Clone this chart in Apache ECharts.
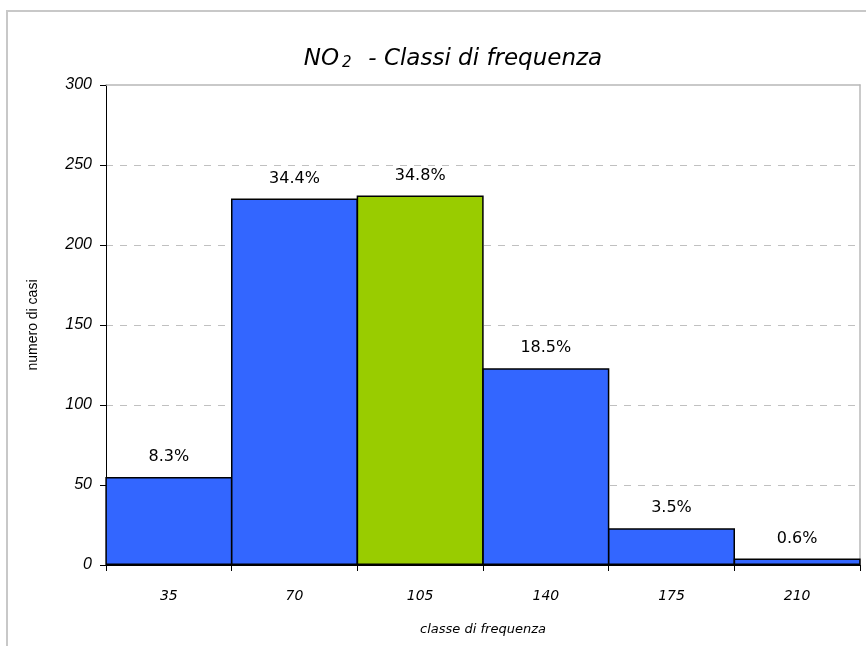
<!DOCTYPE html>
<html>
<head>
<meta charset="utf-8">
<script src="https://cdn.jsdelivr.net/npm/echarts@6/dist/echarts.min.js"></script>
<style>
  html, body { margin: 0; padding: 0; background: #fff; }
  #chart { width: 866px; height: 646px; }
</style>
</head>
<body>
<div id="chart"></div>
<script>
// classi di frequenza NO2
var classi = ['35', '70', '105', '140', '175', '210'];
var casi = [55, 229, 231, 123, 23, 4];
var percentuali = ['8.3%', '34.4%', '34.8%', '18.5%', '3.5%', '0.6%'];
var colori = ['#3366ff', '#3366ff', '#99cc00', '#3366ff', '#3366ff', '#3366ff'];

var myChart = echarts.init(document.getElementById('chart'));

var dati = [];
for (var i = 0; i < casi.length; i++) {
	dati.push({
		value: casi[i],
		itemStyle: { color: colori[i] },
		label: { formatter: percentuali[i] }
	});
}

myChart.setOption({
	animation: false,
	graphic: [{
		type: 'rect',
		shape: { x: 7, y: 11, width: 900, height: 700 },
		style: { fill: 'none', stroke: '#c8c8c8', lineWidth: 2 },
		z: -1
	}],
	title: {
		text: '{a|NO}{s|2}{a|  - Classi di frequenza}',
		left: 448,
		textAlign: 'center',
		top: 42,
		textStyle: {
			fontWeight: 'normal',
			rich: {
				a: { fontFamily: 'DejaVu Sans', fontStyle: 'italic', fontWeight: 'normal', fontSize: 23, color: '#000' },
				s: { fontFamily: 'DejaVu Sans', fontStyle: 'italic', fontWeight: 'normal', fontSize: 15, color: '#000', padding: [9, 2, 0, 3] }
			}
		}
	},
	grid: { left: 106, right: 6, top: 85, bottom: 81 },
	xAxis: [{
		type: 'category',
		data: classi,
		position: 'bottom',
		axisLine: { lineStyle: { color: '#000', width: 1 } },
		axisTick: { show: true, length: 6, lineStyle: { color: '#000' } },
		axisLabel: {
			margin: 24,
			fontFamily: 'DejaVu Sans',
			fontStyle: 'italic',
			fontSize: 14,
			color: '#000'
		},
		name: 'classe di frequenza',
		nameLocation: 'middle',
		nameGap: 58,
		nameTextStyle: { fontFamily: 'DejaVu Sans', fontStyle: 'italic', fontSize: 13, color: '#000' }
	}, {
		type: 'category',
		data: classi,
		position: 'top',
		axisLine: { onZero: false, lineStyle: { color: '#b8b8b8', width: 1.5 } },
		axisTick: { show: false },
		axisLabel: { show: false }
	}],
	yAxis: [{
		type: 'value',
		min: 0,
		max: 300,
		interval: 50,
		axisLine: { show: true, lineStyle: { color: '#000', width: 1 } },
		axisTick: { show: true, length: 6, lineStyle: { color: '#000' } },
		axisLabel: {
			margin: 14,
			fontFamily: 'Liberation Sans',
			fontStyle: 'italic',
			fontSize: 16,
			color: '#000'
		},
		splitLine: { show: true, showMaxLine: false, lineStyle: { color: '#c0c0c0', type: [7, 7], width: 1 } },
		name: 'numero di casi',
		nameLocation: 'middle',
		nameGap: 66,
		nameRotate: 90,
		nameTextStyle: { fontFamily: 'Liberation Sans', fontSize: 14, color: '#000' }
	}, {
		type: 'value',
		min: 0,
		max: 300,
		interval: 50,
		position: 'right',
		axisLine: { show: true, onZero: false, lineStyle: { color: '#b8b8b8', width: 1.5 } },
		axisTick: { show: false },
		axisLabel: { show: false },
		splitLine: { show: false }
	}],
	series: [{
		type: 'bar',
		data: dati,
		barWidth: 127,
		xAxisIndex: 0,
		yAxisIndex: 0,
		itemStyle: { borderColor: '#000', borderWidth: 1.5 },
		label: {
			show: true,
			position: 'top',
			distance: 12,
			fontFamily: 'DejaVu Sans',
			fontSize: 16,
			color: '#000'
		}
	}]
});
</script>
</body>
</html>
